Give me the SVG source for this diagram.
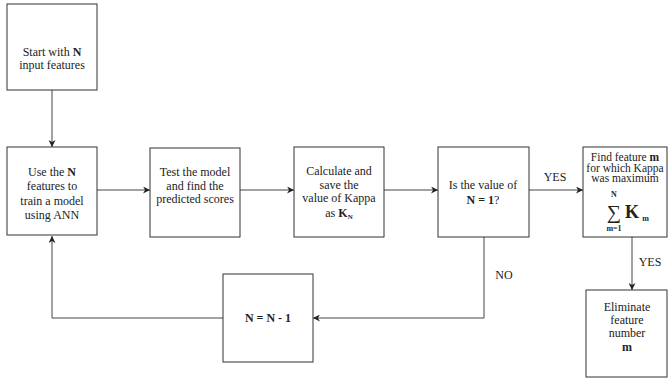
<svg xmlns="http://www.w3.org/2000/svg" width="669" height="386" viewBox="0 0 669 386" font-family="'Liberation Serif', 'DejaVu Serif', serif">
  <defs>
    <style>
      .box { fill: #ffffff; stroke: #333333; stroke-width: 1; }
      .wire { fill: none; stroke: #444444; stroke-width: 1; }
      .t { font-family: 'Liberation Serif', 'Times New Roman', serif; font-size: 12px; fill: #222222; text-anchor: middle; }
      .b { font-weight: bold; }
    </style>
    <marker id="arrow" viewBox="0 0 10 10" refX="10" refY="5" markerWidth="7" markerHeight="7" orient="auto" markerUnits="userSpaceOnUse">
      <path d="M0,0 L10,5 L0,10 L3,5 Z" fill="#222222"/>
    </marker>
  </defs>
  <rect width="669" height="386" fill="#ffffff"/>

  <!-- connectors and their labels -->
  <g id="connectors">
    <path class="wire" d="M52,90 V147" marker-end="url(#arrow)"/>
    <path class="wire" d="M97,190 H150" marker-end="url(#arrow)"/>
    <path class="wire" d="M240,190 H294" marker-end="url(#arrow)"/>
    <path class="wire" d="M384,190 H438" marker-end="url(#arrow)"/>
    <path class="wire" d="M529,190 H583" marker-end="url(#arrow)"/>
    <path class="wire" d="M632,237 V290" marker-end="url(#arrow)"/>
    <path class="wire" d="M484,237 V318 H313" marker-end="url(#arrow)"/>
    <path class="wire" d="M223,318 H52 V236" marker-end="url(#arrow)"/>
    <text class="t" x="555" y="181">YES</text>
    <text class="t" x="650" y="266">YES</text>
    <text class="t" x="504" y="279">NO</text>
  </g>

  <g id="start">
    <rect class="box" x="7" y="4" width="90" height="86"/>
    <text class="t" x="52" y="56">Start with <tspan class="b">N</tspan></text>
    <text class="t" x="52" y="69">input features</text>
  </g>

  <g id="train">
    <rect class="box" x="7" y="147" width="90" height="88"/>
    <text class="t" x="52" y="176">Use the <tspan class="b">N</tspan></text>
    <text class="t" x="52" y="190">features to</text>
    <text class="t" x="52" y="205">train a model</text>
    <text class="t" x="52" y="219">using ANN</text>
  </g>

  <g id="test">
    <rect class="box" x="150" y="148" width="90" height="89"/>
    <text class="t" x="195" y="176">Test the model</text>
    <text class="t" x="195" y="189.5">and find the</text>
    <text class="t" x="195" y="203">predicted scores</text>
  </g>

  <g id="kappa">
    <rect class="box" x="294" y="147" width="90" height="90"/>
    <text class="t" x="339" y="175">Calculate and</text>
    <text class="t" x="339" y="188.5">save the</text>
    <text class="t" x="339" y="202">value of Kappa</text>
    <text class="t" x="339" y="216.5">as <tspan class="b">K</tspan><tspan class="b" style="font-size:7px" dy="2">N</tspan></text>
  </g>

  <g id="decision">
    <rect class="box" x="438" y="147" width="91" height="90"/>
    <text class="t" x="483" y="189">Is the value of</text>
    <text class="t" x="483" y="204"><tspan class="b">N = 1</tspan>?</text>
  </g>

  <g id="findmax">
    <rect class="box" x="583" y="147" width="84" height="90"/>
    <text class="t" x="625" y="161" style="font-size:11.5px">Find feature <tspan class="b">m</tspan></text>
    <text class="t" x="625" y="171.5" style="font-size:11.5px">for which Kappa</text>
    <text class="t" x="625" y="182" style="font-size:11.5px">was maximum</text>
    <text class="t b" x="614" y="197" style="font-size:8px">N</text>
    <text class="t" x="614" y="219" style="font-size:20px">∑</text>
    <text class="t b" x="632" y="218" style="font-size:18px">K</text>
    <text class="t b" x="645.5" y="221" style="font-size:8px">m</text>
    <text class="t b" x="614" y="231" style="font-size:8px">m=1</text>
  </g>

  <g id="eliminate">
    <rect class="box" x="586" y="290" width="81" height="87"/>
    <text class="t" x="627" y="311">Eliminate</text>
    <text class="t" x="627" y="324">feature</text>
    <text class="t" x="627" y="337">number</text>
    <text class="t b" x="627" y="351">m</text>
  </g>

  <g id="decrement">
    <rect class="box" x="223" y="274" width="90" height="88"/>
    <text class="t b" x="268" y="322">N = N - 1</text>
  </g>
</svg>
